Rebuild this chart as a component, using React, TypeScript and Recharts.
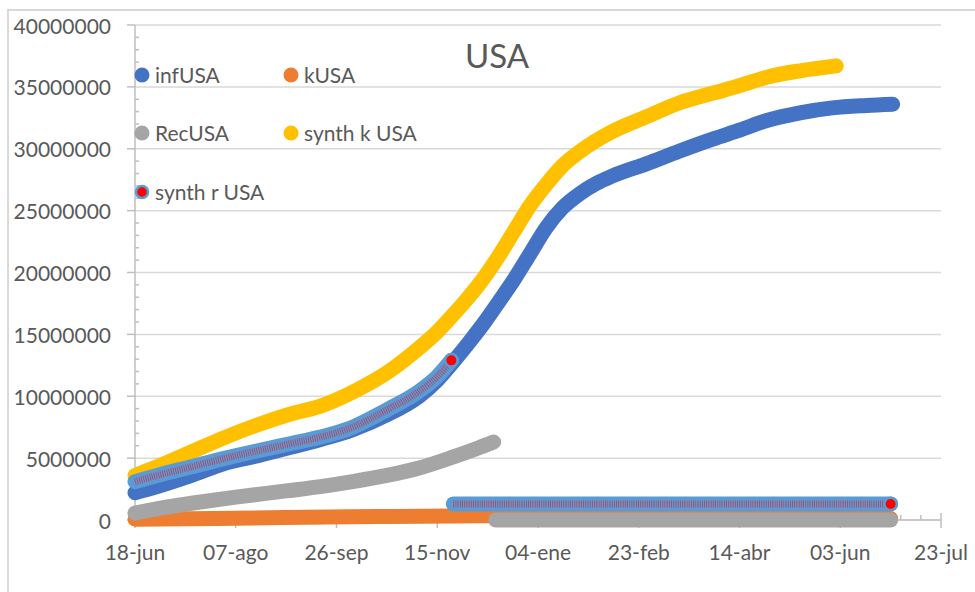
import React from 'react';
import { LineChart, Line, XAxis, YAxis, CartesianGrid } from 'recharts';

// x values are days counted from 18-jun-2020
const xMajorDays = [0, 50, 100, 150, 200, 250, 300, 350, 400];
const xTickLabels = ['18-jun', '07-ago', '26-sep', '15-nov', '04-ene', '23-feb', '14-abr', '03-jun', '23-jul'];
const xMinorStep = 10;

const yMajorTicks = [0, 5000000, 10000000, 15000000, 20000000, 25000000, 30000000, 35000000, 40000000];
const yMinorStep = 1000000;

const infUSA: [number, number][] = [
  [0, 2200000], [11, 2700000], [28, 3600000], [45, 4600000], [61, 5200000], [78, 5900000],
  [92, 6500000], [108, 7300000], [125, 8500000], [141, 10000000], [150, 11300000], [158, 12800000],
  [166, 14400000], [174, 16100000], [180, 17500000], [188, 19400000], [196, 21500000], [204, 23600000],
  [212, 25200000], [221, 26400000], [229, 27200000], [237, 27800000], [254, 28800000], [270, 29800000],
  [287, 30800000], [300, 31500000], [314, 32300000], [330, 32900000], [346, 33300000], [363, 33500000],
  [376, 33600000],
];

const kUSA: [number, number][] = [
  [0, 60000], [40, 120000], [74, 200000], [120, 280000], [178, 350000], [260, 200000], [375, 120000],
];

const recUSA: [number, number][] = [
  [0, 550000], [14, 1000000], [28, 1350000], [50, 1850000], [75, 2350000], [92, 2700000],
  [108, 3100000], [125, 3600000], [141, 4200000], [158, 5100000], [170, 5800000], [178, 6300000],
];
const recUSAReset: [number, number][] = [[179, 0], [375, 0]];

const synthKUSA: [number, number][] = [
  [0, 3600000], [11, 4300000], [28, 5500000], [45, 6700000], [61, 7700000], [78, 8600000],
  [92, 9200000], [99, 9650000], [110, 10500000], [125, 11900000], [141, 13900000], [150, 15200000],
  [158, 16600000], [165, 17900000], [171, 19100000], [180, 21200000], [188, 23300000], [196, 25400000],
  [204, 27100000], [212, 28600000], [221, 29800000], [237, 31400000], [254, 32600000], [270, 33700000],
  [287, 34500000], [300, 35100000], [314, 35800000], [330, 36300000], [348, 36700000],
];

const synthRUSA: [number, number][] = [
  [0, 3100000], [11, 3600000], [28, 4300000], [45, 5000000], [61, 5600000], [78, 6200000],
  [92, 6700000], [108, 7500000], [125, 8900000], [141, 10400000], [150, 11600000], [157, 12900000],
];
const synthRUSAFlat: [number, number][] = [[158, 1300000], [375, 1300000]];

const C_INF = '#4472C4';
const C_K = '#ED7D31';
const C_REC = '#A5A5A5';
const C_SK = '#FFC000';
const C_SR_RING = '#5B9BD5';
const C_SR_FILL = '#FF0000';
const AXIS = '#BFBFBF';
const GRID = '#D9D9D9';
const TEXT = '#595959';
const FONT = 'Lato, "Open Sans", sans-serif';

const W = 975;
const H = 592;
const PLOT = { top: 25, right: 34, bottom: 72, left: 135 };
const X_DOMAIN: [number, number] = [0, 400];
const Y_DOMAIN: [number, number] = [0, 40000000];
const BAND = 15;

const toPts = (arr: [number, number][]) => arr.map(([day, value]) => ({ day, value }));

const range = (from: number, to: number, step: number) => {
  const out: number[] = [];
  for (let v = from; v <= to; v += step) out.push(v);
  return out;
};

const xTicks = range(X_DOMAIN[0], X_DOMAIN[1], xMinorStep);
const yTicks = range(Y_DOMAIN[0], Y_DOMAIN[1], yMinorStep);

const XTick = (props: any) => {
  const { x, y, payload } = props;
  const i = xMajorDays.indexOf(payload.value);
  if (i >= 0) {
    return (
      <g>
        <line x1={x} x2={x} y1={y - 7} y2={y + 8} stroke={AXIS} strokeWidth={1.5} />
        <text x={x} y={y + 40} textAnchor="middle" fill={TEXT} fontSize={21} fontFamily={FONT}>
          {xTickLabels[i]}
        </text>
      </g>
    );
  }
  return <line x1={x} x2={x} y1={y - 5} y2={y} stroke={AXIS} strokeWidth={1.5} />;
};

const YTick = (props: any) => {
  const { x, y, payload } = props;
  const v = payload.value as number;
  if (yMajorTicks.includes(v)) {
    return (
      <g>
        <line x1={x - 8} x2={x} y1={y} y2={y} stroke={AXIS} strokeWidth={1.5} />
        <text x={x - 24} y={y + 8.5} textAnchor="end" fill={TEXT} fontSize={21} fontFamily={FONT}>
          {String(v)}
        </text>
      </g>
    );
  }
  return <line x1={x} x2={x + 4} y1={y} y2={y} stroke={AXIS} strokeWidth={1.5} />;
};

const endMarker = (count: number) => (p: any) =>
  p.index === count - 1 ? (
    <circle
      key={`end-${p.index}`}
      cx={p.cx}
      cy={p.cy}
      r={6.25}
      fill={C_SR_FILL}
      stroke={C_SR_RING}
      strokeWidth={2.5}
    />
  ) : (
    <g key={`none-${p.index}`} />
  );

const band = (color: string) => ({
  stroke: color,
  strokeWidth: BAND,
  strokeLinecap: 'round' as const,
  strokeLinejoin: 'round' as const,
  dot: false,
  activeDot: false,
  isAnimationActive: false,
  type: 'monotone' as const,
  dataKey: 'value',
  legendType: 'none' as const,
});

const stripes = {
  stroke: C_SR_FILL,
  strokeWidth: 7,
  strokeDasharray: '0.8 1.4',
  strokeOpacity: 0.6,
  activeDot: false,
  isAnimationActive: false,
  type: 'monotone' as const,
  dataKey: 'value',
};

const legendItems = [
  { name: 'infUSA', color: C_INF, x: 142, y: 75 },
  { name: 'kUSA', color: C_K, x: 291, y: 75 },
  { name: 'RecUSA', color: C_REC, x: 142, y: 133 },
  { name: 'synth k USA', color: C_SK, x: 291, y: 133 },
  { name: 'synth r USA', color: C_SR_FILL, ring: C_SR_RING, x: 142, y: 192 },
];

const layer: React.CSSProperties = { position: 'absolute', left: 0, top: 0 };

export default function App() {
  return (
    <div
      style={{
        position: 'absolute',
        left: 0,
        top: 0,
        width: W,
        height: H,
        background: '#ffffff',
        overflow: 'hidden',
      }}
    >
      <div
        style={{
          position: 'absolute',
          left: 7,
          top: 9,
          width: 990,
          height: 600,
          borderLeft: `2px solid ${GRID}`,
          borderTop: `2px solid ${GRID}`,
        }}
      />
      {/* axes and gridlines sit underneath the series */}
      <div style={layer}>
        <LineChart width={W} height={H} margin={{ top: PLOT.top, right: PLOT.right, bottom: 0, left: 0 }}>
          <CartesianGrid vertical={false} horizontalValues={yMajorTicks} stroke={GRID} strokeWidth={1.5} />
          <XAxis
            dataKey="day"
            type="number"
            domain={X_DOMAIN}
            ticks={xTicks}
            interval={0}
            height={PLOT.bottom}
            tickSize={0}
            tickMargin={0}
            tickLine={false}
            axisLine={{ stroke: AXIS, strokeWidth: 1.5 }}
            tick={<XTick />}
          />
          <YAxis
            type="number"
            domain={Y_DOMAIN}
            ticks={yTicks}
            interval={0}
            width={PLOT.left}
            tickSize={0}
            tickMargin={0}
            tickLine={false}
            axisLine={{ stroke: AXIS, strokeWidth: 1.5 }}
            tick={<YTick />}
          />
          {/* transparent carrier so the axis layer has a series bound to its scales */}
          <Line
            data={toPts(infUSA)}
            dataKey="value"
            stroke="transparent"
            strokeOpacity={0}
            dot={false}
            activeDot={false}
            isAnimationActive={false}
            legendType="none"
          />
        </LineChart>
      </div>
      {/* series */}
      <div style={layer}>
        <LineChart width={W} height={H} margin={PLOT}>
          <XAxis dataKey="day" type="number" domain={X_DOMAIN} hide />
          <YAxis type="number" domain={Y_DOMAIN} hide />
          <Line data={toPts(infUSA)} name="infUSA" {...band(C_INF)} />
          <Line data={toPts(kUSA)} name="kUSA" {...band(C_K)} />
          <Line data={toPts(recUSA)} name="RecUSA" {...band(C_REC)} />
          <Line data={toPts(recUSAReset)} name="RecUSA" {...band(C_REC)} />
          <Line data={toPts(synthKUSA)} name="synth k USA" {...band(C_SK)} />
          <Line data={toPts(synthRUSA)} name="synth r USA" {...band(C_SR_RING)} />
          <Line data={toPts(synthRUSAFlat)} name="synth r USA" {...band(C_SR_RING)} />
          <Line data={toPts(synthRUSA)} name="synth r USA" {...stripes} dot={endMarker(synthRUSA.length)} />
          <Line data={toPts(synthRUSAFlat)} name="synth r USA" {...stripes} dot={endMarker(synthRUSAFlat.length)} />
        </LineChart>
      </div>
      <svg width={W} height={H} style={{ ...layer, pointerEvents: 'none' }}>
        <text x={497} y={68} textAnchor="middle" fill={TEXT} fontSize={33} fontFamily={FONT}>
          USA
        </text>
        {legendItems.map((it) => (
          <g key={it.name}>
            {it.ring ? (
              <circle cx={it.x} cy={it.y} r={6} fill={it.color} stroke={it.ring} strokeWidth={2.5} />
            ) : (
              <circle cx={it.x} cy={it.y} r={7.5} fill={it.color} />
            )}
            <text x={it.x + 13} y={it.y + 7.5} fill={TEXT} fontSize={21} fontFamily={FONT}>
              {it.name}
            </text>
          </g>
        ))}
      </svg>
    </div>
  );
}
